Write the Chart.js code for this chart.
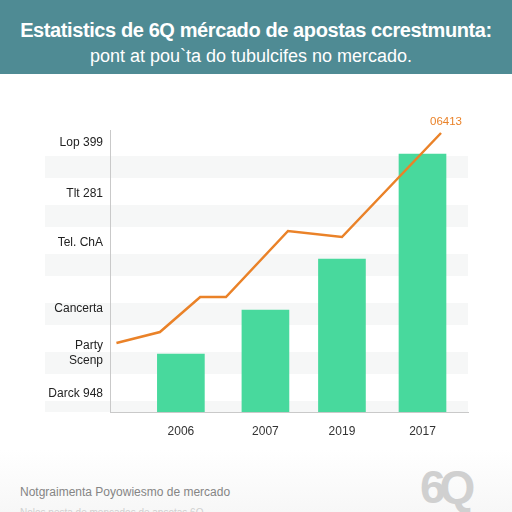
<!DOCTYPE html>
<html>
<head>
<meta charset="utf-8">
<script src="https://cdn.jsdelivr.net/npm/chart.js@4.4.0/dist/chart.umd.min.js"></script>
<style>
  body { margin: 0; width: 512px; height: 512px; background: #ffffff; overflow: hidden; font-family: "Liberation Sans", Arial, sans-serif; position: relative; }
  #header { position: absolute; left: 0; top: 0; width: 512px; height: 74px; background: #4f8b94; color: #ffffff; text-align: center; }
  #title { position: absolute; top: 19px; width: 100%; font-size: 20px; font-weight: bold; letter-spacing: -0.4px; }
  #subtitle { position: absolute; top: 46px; width: 100%; font-size: 18px; text-indent: -10px; }
  #chartBox { position: absolute; left: 0; top: 100px; width: 512px; height: 350px; }
  #footer { position: absolute; left: 0; top: 450px; width: 512px; height: 62px; background: linear-gradient(#ffffff, #f7f7f7); }
  #footText { position: absolute; left: 20px; top: 35px; font-size: 12px; color: #858585; }
  #footText2 { position: absolute; left: 20px; top: 57px; font-size: 10px; color: #d0d0d0; }
  #logo { position: absolute; left: 420px; top: 10px; font-size: 46px; font-weight: bold; color: #d0d0d0; letter-spacing: -6px; }
</style>
</head>
<body>
<div id="header">
  <div id="title">Estatistics de 6Q mércado de apostas ccrestmunta:</div>
  <div id="subtitle">pont at pou`ta do tubulcifes no mercado.</div>
</div>
<div id="chartBox"><canvas id="statsCanvas" width="512" height="350"></canvas></div>
<div id="footer">
  <div id="footText">Notgraimenta Poyowiesmo de mercado</div>
  <div id="footText2">Nolos pesta de mencados de apsotas 6Q</div>
  <div id="logo">6Q</div>
</div>
<script>
// categories / bars
const barPositions = [0, 1.05, 2, 3];
const barLabels = ['2006', '2007', '2019', '2017'];
const barValues = [58, 102, 153, 258];

// orange line
const linePositions = [-0.8, -0.26, 0.24, 0.56, 1.33, 2.0, 3.23];
const lineValues = [69, 80, 115, 115, 181, 175, 279];
const lineEndLabel = '06413';

// y axis labels (values where they sit)
const yTickValues = [269, 218, 169, 103, 59, 18];
const yTickLabels = ['Lop 399', 'Tlt 281', 'Tel. ChA', 'Cancerta', ['Party', 'Scenp'], 'Darck 948'];

// light stripes behind the plot
const bandValues = [0, 49, 98, 147, 196, 245];

const BAR_COLOR = '#48d99d';
const LINE_COLOR = '#ea8228';

//---------------------- PLUGINS

const bandsPlugin = {
    id: 'bands',
    beforeDraw(chart) {
        const ctx = chart.ctx;
        const yScale = chart.scales.y;
        const area = chart.chartArea;
        ctx.save();
        ctx.fillStyle = '#f6f7f7';
        bandValues.forEach(v => {
            const py = yScale.getPixelForValue(v);
            const top = Math.max(py - 11, area.top);
            const bottom = Math.min(py + 11, area.bottom);
            ctx.fillRect(area.left - 65, top, area.right - area.left + 65, bottom - top);
        });
        ctx.restore();
    }
};

const endLabelPlugin = {
    id: 'endLabel',
    afterDatasetsDraw(chart) {
        const meta = chart.getDatasetMeta(1);
        const last = meta.data[meta.data.length - 1];
        const ctx = chart.ctx;
        ctx.save();
        ctx.fillStyle = LINE_COLOR;
        ctx.font = '11.5px "Liberation Sans", Arial, sans-serif';
        ctx.textAlign = 'center';
        ctx.textBaseline = 'bottom';
        ctx.fillText(lineEndLabel, last.x + 5, last.y - 5);
        ctx.restore();
    }
};

//---------------------- CHART

const myChart = new Chart(document.getElementById('statsCanvas').getContext('2d'), {
    data: {
        datasets: [
            {
                type: 'bar',
                label: 'bars',
                data: barPositions.map((x, i) => ({ x: x, y: barValues[i] })),
                backgroundColor: BAR_COLOR,
                borderWidth: 0,
                barThickness: 47,
                order: 2
            },
            {
                type: 'line',
                label: 'line',
                data: linePositions.map((x, i) => ({ x: x, y: lineValues[i] })),
                borderColor: LINE_COLOR,
                borderWidth: 2.5,
                pointRadius: 0,
                tension: 0,
                order: 1
            }
        ]
    },
    options: {
        responsive: false,
        animation: false,
        layout: { padding: { left: 0, right: 44, top: 30, bottom: 0 } },
        plugins: {
            legend: { display: false },
            tooltip: { enabled: false }
        },
        scales: {
            x: {
                type: 'linear',
                offset: false,
                min: -0.88,
                max: 3.565,
                grid: { display: false, drawTicks: false },
                border: { color: '#c9c9c9', width: 1 },
                afterBuildTicks: axis => { axis.ticks = barPositions.map(v => ({ value: v })); },
                afterFit: axis => { axis.height = 38; },
                ticks: {
                    padding: 12,
                    color: '#333333',
                    font: { size: 12, family: '"Liberation Sans", Arial, sans-serif' },
                    callback: (value, index) => barLabels[index]
                }
            },
            y: {
                type: 'linear',
                min: 0,
                max: 282,
                grid: { display: false, drawTicks: false },
                border: { color: '#c9c9c9', width: 1 },
                afterBuildTicks: axis => { axis.ticks = yTickValues.map(v => ({ value: v })); },
                afterFit: axis => { axis.width = 110; },
                ticks: {
                    padding: 7,
                    color: '#222222',
                    font: { size: 12, family: '"Liberation Sans", Arial, sans-serif' },
                    callback: (value, index) => yTickLabels[index]
                }
            }
        }
    },
    plugins: [bandsPlugin, endLabelPlugin]
});
</script>
</body>
</html>
